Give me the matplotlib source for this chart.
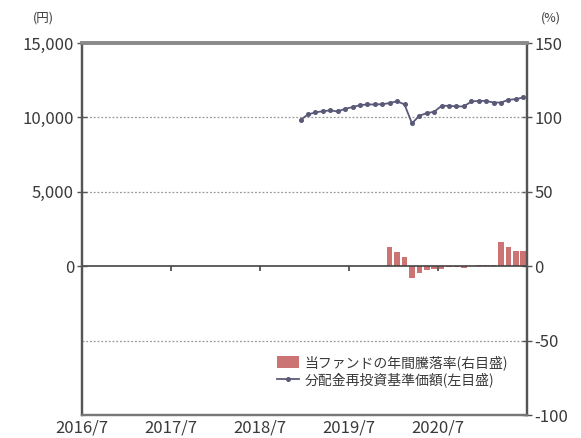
import matplotlib.pyplot as plt
from matplotlib.ticker import FuncFormatter

plt.rcParams['font.family'] = ['Noto Sans CJK JP', 'DejaVu Sans']
plt.rcParams['axes.unicode_minus'] = False

# month index: 0 = 2016/7, values plotted at the middle of the month
nav_start = 29  # 2018/12
nav = [9840, 10200, 10335, 10420, 10470, 10400, 10580, 10690, 10825, 10870,
       10870, 10890, 10960, 11090, 10870, 9600, 10110, 10290, 10380, 10780,
       10780, 10740, 10740, 11070, 11110, 11110, 11000, 11000, 11180, 11230,
       11340]

ret_start = 41  # 2019/12
ret = [12.6, 9.8, 6.4, -7.8, -4.8, -2.8, -1.6, -2.0, -0.5, -0.5,
       -1.4, 0.4, 0.9, 0.7, 0.9, 16.0, 12.8, 10.4, 10.0]

xtick_labels = ['2016/7', '2017/7', '2018/7', '2019/7', '2020/7']
xtick_pos = [0, 12, 24, 36, 48]

nav_x = [nav_start + i + 0.5 for i in range(len(nav))]
ret_x = [ret_start + i + 0.5 for i in range(len(ret))]

fig = plt.figure(figsize=(5.81, 4.38), dpi=100)
ax = fig.add_axes([0.1406, 0.0525, 0.7664, 0.8493])
ax2 = ax.twinx()

grey = '#555555'
txt = '#3a3a3a'

ax.set_xlim(0, 60)
ax.set_ylim(-10000, 15000)
ax2.set_ylim(-100, 150)

# grid lines (dotted)
for v in [5000, 10000]:
    ax.axhline(v, color='#999999', lw=0.9, ls=(0, (1.5, 1.5)), zorder=1)
ax2.axhline(-50, color='#999999', lw=0.9, ls=(0, (1.5, 1.5)), zorder=1)

# bars on right axis
ax2.bar(ret_x, ret, width=0.75, color='#c45a5a', alpha=0.85,
        label='当ファンドの年間騰落率(右目盛)', zorder=2)
ax2.axhline(0, color='#444444', lw=1.2, zorder=3)
ax2.vlines(xtick_pos, -3, 0, color='#444444', lw=1.2, zorder=3)

# NAV line on left axis
ax.plot(nav_x, nav, color='#5a5a78', lw=1.3, marker='o', ms=2.6,
        label='分配金再投資基準価額(左目盛)', zorder=4)

ax.set_xticks(xtick_pos)
ax.set_xticklabels(xtick_labels)
ax.tick_params(axis='x', length=0, pad=3, labelsize=12, labelcolor=txt)

ax.set_yticks([0, 5000, 10000, 15000])
ax.yaxis.set_major_formatter(FuncFormatter(lambda v, p: f'{int(v):,}'))
ax.tick_params(axis='y', direction='inout', length=7, width=1, color=grey,
               labelsize=12, labelcolor=txt, pad=2)
ax2.set_yticks([-100, -50, 0, 50, 100, 150])
ax2.tick_params(axis='y', direction='inout', length=7, width=1, color=grey,
                labelsize=12, labelcolor=txt, pad=2)

for a in (ax, ax2):
    a.spines['left'].set_color(grey)
    a.spines['left'].set_linewidth(1.6)
    a.spines['right'].set_color(grey)
    a.spines['right'].set_linewidth(1.6)
    a.spines['top'].set_color('#8a8a8a')
    a.spines['top'].set_linewidth(2.6)
    a.spines['bottom'].set_color('#777777')
    a.spines['bottom'].set_linewidth(1.6)

ax.patch.set_visible(False)
ax.set_zorder(ax2.get_zorder() + 1)

fig.text(0.075, 0.95, '(円)', fontsize=9, color=txt, ha='center')
fig.text(0.948, 0.95, '(%)', fontsize=9, color=txt, ha='center')

h1, l1 = ax2.get_legend_handles_labels()
h2, l2 = ax.get_legend_handles_labels()
ax.legend(h1 + h2, l1 + l2, loc='lower right', bbox_to_anchor=(0.985, 0.04),
          frameon=False, fontsize=10, handlelength=1.6, handleheight=1.0,
          handletextpad=0.4, labelspacing=0.2, labelcolor=txt)

fig.savefig('out.png', dpi=100)
